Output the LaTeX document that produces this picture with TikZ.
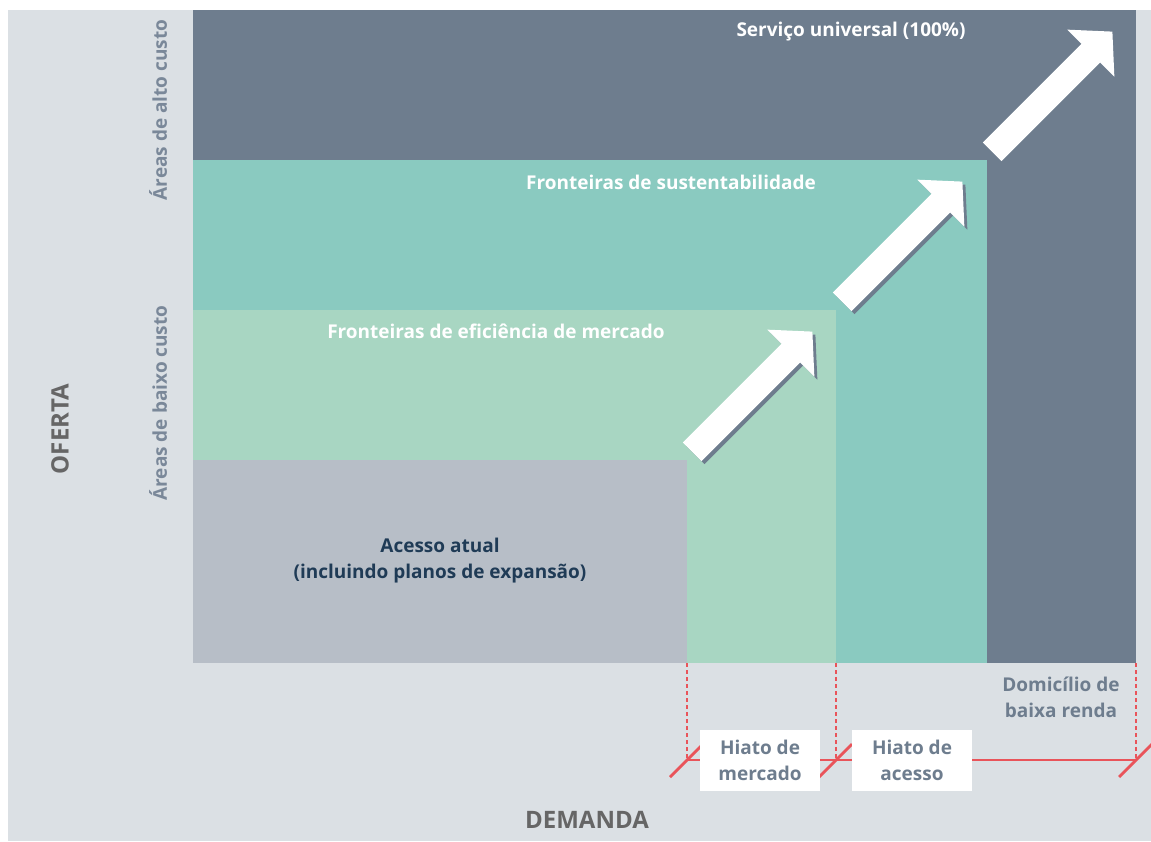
\documentclass[tikz,border=0pt]{standalone}
\usepackage{fontspec}
\setmainfont{Open Sans}
\usetikzlibrary{positioning,shapes.arrows}
\definecolor{panelgray}{HTML}{DBE0E4}
\definecolor{altocusto}{HTML}{6E7D8E}
\definecolor{sustentcol}{HTML}{8ACAC0}
\definecolor{eficientcol}{HTML}{A8D6C2}
\definecolor{atualcol}{HTML}{B7BEC7}
\definecolor{textnavy}{HTML}{1F3B56}
\definecolor{labelgray}{HTML}{7A8899}
\definecolor{axisgray}{HTML}{666666}
\definecolor{gapred}{HTML}{E9545A}
\tikzset{growth/.style = {single arrow, fill=white, rotate=45, inner xsep=0pt, inner ysep=13pt, minimum height=170, single arrow head extend=20, single arrow tip angle=95}}
\tikzset{gapbox/.style = {fill=white, text=altocusto, align=center, minimum width=120, minimum height=61, inner sep=0pt}}
\tikzset{gapline/.style = {gapred, line width=2.8pt}}
\tikzset{axislabel/.style = {text=axisgray, font=\bfseries\fontsize{24}{28}\selectfont}}

\begin{document}
\begin{tikzpicture}[x=1pt, y=-1pt, font=\bfseries\fontsize{19}{26}\selectfont]
  \useasboundingbox (0,0) rectangle (1151,841);
  \fill[panelgray] (8,10) rectangle (1151,841);
  % nested frontiers
  \fill[altocusto] (193,10) rectangle (1136,663);
  \fill[sustentcol] (193,160) rectangle (987,663);
  \fill[eficientcol] (193,310) rectangle (836,663);
  \fill[atualcol] (193,460) rectangle (687,663);

  \node[white] (universal) at (851,32) {Serviço universal (100\%)};
  \node[white] (sustent) at (671,182) {Fronteiras de sustentabilidade};
  \node[white] (eficient) at (496,331) {Fronteiras de eficiência de mercado};
  \node[textnavy, align=center] (atual) at (440,561) {Acesso atual\\(incluindo planos de expansão)};

  \node[labelgray, rotate=90] (alto) at (158,110) {Áreas de alto custo};
  \node[labelgray, rotate=90] (baixo) at (158,403) {Áreas de baixo custo};
  \node[axislabel, rotate=90] (oferta) at (60,429) {OFERTA};
  \node[axislabel] (demanda) at (587,820) {DEMANDA};
  \node[altocusto, align=center] (domicilio) at (1061,697) {Domicílio de\\baixa renda};

  % arrows
  \foreach \k in {0,1,2} {
    \node[growth, fill=altocusto] at (751+150*\k, 399-150*\k) {};
    \node[growth] (arrow\k) at (748+150*\k, 396-150*\k) {};
  }

  % gaps
  \coordinate (top0) at (687,663);
  \coordinate (top1) at (836,663);
  \coordinate (top2) at (1136,663);
  \coordinate (gap0) at (687,760);
  \coordinate (gap1) at (836,760);
  \coordinate (gap2) at (1136,760);
  \foreach \k in {0,1,2} {
    \draw[gapred, line width=2.4pt, dash pattern=on 4pt off 3pt] (top\k) -- (gap\k);
    \draw[gapline] ([shift={(-17,17)}]gap\k) -- ([shift={(16,-16)}]gap\k);
  }
  \draw[gapline] (gap0) -- (gap2);
  \node[gapbox] (hmercado) at (760,760) {Hiato de\\mercado};
  \node[gapbox] (hacesso) at (912,760) {Hiato de\\acesso};
\end{tikzpicture}
\end{document}
